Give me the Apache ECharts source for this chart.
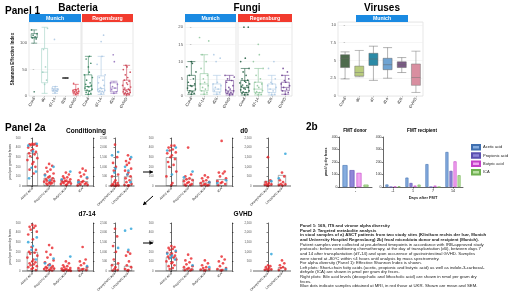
<!DOCTYPE html>
<html><head><meta charset="utf-8">
<script src="https://cdn.jsdelivr.net/npm/echarts@6/dist/echarts.min.js"></script>
<style>html,body{margin:0;padding:0;background:#fff}#c{width:520px;height:298px}</style>
</head><body><div id="c"></div>
<script>
// ---------------- DATA ----------------
// Panel 1 – Bacteria (Shannon effective index)
const bactMunichCats = ['Cond','d0','d7-14','d28','GVHD'];
const bactMunichBox = [[100,110,111,118,125],[5,25,45,90,130],[5,9,11,14,18],[34,34,34,34,34],[2,5,8,12,22]];
const bactMunichPts = [[8,108,110,112,115,118,125],[22,30,45,55,88,128],[6,9,10,11,12,13,15,18,107],[34,34],[3,5,6,7,8,9,10,11,12,14,24]];
const bactRegCats = ['Cond','d7-14','d28','GVHD'];
const bactRegBox = [[3,10,18,40,75],[3,8,14,38,75],[5,8,15,25,28],[2,5,12,30,58]];
const bactRegPts = [
  [3,5,7,9,11,13,15,17,18,20,22,25,30,35,40,45,55,62,70,75],
  [4,6,8,9,10,11,12,14,16,20,25,30,35,40,60,75,103,115],
  [5,8,12,15,18,22,25,65,78],
  [2,3,4,5,6,7,8,9,10,11,12,13,15,17,20,22,25,28,30,35,40,45,50,55,58]];
// Panel 1 – Fungi
const fungiMunichCats = ['Cond','d7-14','d28','GVHD'];
const fungiMunichBox = [[0.5,1.5,3,6,10],[0.5,1.5,3.5,6.5,12],[0.5,1.2,2,3.5,6],[0.3,0.8,1.5,4.5,6]];
const fungiMunichPts = [
  [0.5,0.8,1,1.2,1.5,2,2.3,2.8,3,3.5,4,5,6,7,8.5,9.5,10],
  [0.5,1,1.5,2,2.5,3,3.5,4,5,6,8,10,12,16,17],
  [0.5,1,1.5,2,2.5,3,3.5,4,10,11,12],
  [0.3,0.5,0.8,1,1.2,1.5,1.8,2,2.5,3,4,4.5,5,5.5,6]];
const fungiRegCats = ['Cond','d7-14','d28','GVHD'];
const fungiRegBox = [[0.3,1,2.5,4.5,8],[0.3,1,2,4,8],[0.3,1,2,3.5,6],[0.5,1.5,2.5,4,6]];
const fungiRegPts = [
  [0.3,0.5,0.8,1,1.2,1.5,1.8,2,2.2,2.5,2.8,3,3.2,3.5,3.8,4,4.3,4.6,5,6,7,8,10,11,20,20],
  [0.3,0.5,0.8,1,1.3,1.6,2,2.5,3,3.5,4,5,6,8,10,12,15],
  [0.3,0.5,1,1.5,2,2.5,3,3.5,4,5,8,10],
  [0.5,1,1.5,2,2.5,3,3.5,4,4.5,5,6,7,8]];
// Panel 1 – Viruses
const virCats = ['Cond','d0','d7','d14','d28','GVHD'];
const virBox = [[2.4,4.0,5.3,5.8,6.2],[2.7,2.8,3.3,4.2,6.4],[2.2,4.3,5.2,6.0,7.0],[2.5,3.7,4.4,5.3,6.8],[3.3,4.0,4.4,4.8,5.4],[0.5,1.5,2.6,4.5,6.3]];

// Panel 2a – metabolites
const scfaCats = ['Acetic acid','Propionic acid','Butyric acid','ICA'];
const bileCats = ['Deoxycholic acid','Lithocholic acid'];
const scfaTicks = [0,100,200,300,400,500];
const bileTicks = [0,500,1000,1500,2000,2500];
// Conditioning
const condScfaMean = [345,85,50,50];
const condScfaRed = [
  [440,440,435,430,425,420,400,380,370,355,340,330,310,290,270,250,230,200,170,130],
  [230,210,190,170,150,130,120,100,90,80,70,60,55,50,45,40,35,30,25,20,15],
  [140,120,100,90,80,70,60,55,50,45,40,35,30,25,20,15,10],
  [180,160,140,120,100,80,60,50,40,30,25,20,15,10,5]];
const condScfaBlue = [[440,420,360,190,150,80],[200,110,60],[150,70],[90,40]];
const condBileMean = [520,500];
const condBileRed = [[2150,1500,1200,1000,800,600,500,300,200,150,100,50,50,30,20,10],[1600,1400,1300,1200,1100,900,800,700,600,500,400,300,200,100,50,30,20]];
const condBileBlue = [[1770,1600,900,700],[1500,1000,800,600,200]];
// d0
const d0ScfaMean = [300,75,35,70];
const d0ScfaRed = [
  [420,420,400,380,370,350,340,320,300,280,250,220,200,150,100,30,10],
  [400,120,100,80,70,60,50,40,30,20,15,10,5],
  [110,90,80,60,50,40,30,20,15,10,5,5],
  [470,150,140,130,100,80,50,40,30,20,10]];
const d0ScfaBlue = [[400,370,120],[150,90],[40],[60,30]];
const d0BileMean = [260,570];
const d0BileRed = [[1500,300,200,150,100,80,60,40,20],[700,500,300,200,100,80,50,30]];
const d0BileBlue = [[250],[1680,400]];
// d7-14
const d7ScfaMean = [198,35,15,25];
const d7ScfaRed = [
  [480,470,460,450,430,410,380,330,250,220,200,190,180,160,140,120,100,90,80,70,60,50,40,30,20,10],
  [270,240,200,170,140,110,90,70,60,50,40,35,30,25,20,15,10,5,5],
  [100,80,60,50,40,30,25,20,15,10,8,5,3,2],
  [250,120,100,80,60,40,30,20,15,10,5]];
const d7ScfaBlue = [[350,300,260,220,120],[130,80,60],[150],[50]];
const d7BileMean = [365,260];
const d7BileRed = [[2200,1800,1300,1000,600,400,300,200,100,50,20],[1000,900,800,500,300,200,100,50,20]];
const d7BileBlue = [[1200],[2200,2100,1100]];
// GVHD
const gvScfaMean = [146,25,15,20];
const gvScfaRed = [
  [260,250,240,230,220,200,190,180,170,160,150,140,130,120,100,90,80,60,50,30,20],
  [170,130,110,90,70,50,40,30,20,15,10,5],
  [110,80,60,40,30,20,15,10,5],
  [150,120,100,80,50,30,20,10,5]];
const gvScfaBlue = [[210,180,160,140,120],[60],[40],[20]];
const gvBileMean = [100,200];
const gvBileRed = [[300,250,200,150,100,80,60,40],[550,400,300,200,150,100,50]];
const gvBileBlue = [[880],[]];

// Panel 2b – FMT
const fmtNames = ['Acetic acid','Propionic acid','Butyric acid','ICA'];
const donorCats = ['-'];
const donorVals = [[175],[135],[113],[19]];
const recipCats = ['-1','1','7','14'];
const recipVals = [[20,75,183,280],[0,32,0,129],[3,11,11,205],[5,19,0,94]];
const fmtTicks = [0,100,200,300,400];

// ---------------- BUILD ----------------
const FONT = '"Liberation Sans", Arial, Helvetica, sans-serif';
const grid=[], xAxis=[], yAxis=[], series=[], graphic=[];
const JIT = [0,0.55,-0.5,0.25,-0.3,0.8,-0.75,0.1,-0.15,0.65,-0.6,0.4,-0.4,0.9,-0.9,0.2];
function jit(j){return JIT[j%JIT.length];}
function txt(x,y,text,size,o){o=o||{};graphic.push({type:'text',x:x,y:y,z:100,silent:true,style:{text:text,fontSize:size,fontWeight:o.bold?'bold':'normal',fontFamily:FONT,fill:o.color||'#000',align:o.align||'left',verticalAlign:'middle',textAlign:o.align||'left',textVerticalAlign:'middle'}});}
function strip(x,y,w,h,label,color){graphic.push({type:'rect',z:90,silent:true,shape:{x:x,y:y,width:w,height:h},style:{fill:color}});txt(x+w/2,y+h/2+0.3,label,5.2,{bold:true,color:'#fff',align:'center'});}
function hline(x1,x2,y){graphic.push({type:'line',z:90,silent:true,shape:{x1:x1,y1:y,x2:x2,y2:y},style:{stroke:'#000',lineWidth:0.6}});}
function arrow(x1,y1,x2,y2){
  graphic.push({type:'line',z:90,silent:true,shape:{x1:x1,y1:y1,x2:x2,y2:y2},style:{stroke:'#000',lineWidth:1}});
  const a=Math.atan2(y2-y1,x2-x1),L=3.5,W=2;
  const bx=x2-L*Math.cos(a),by=y2-L*Math.sin(a);
  graphic.push({type:'polygon',z:91,silent:true,shape:{points:[[x2,y2],[bx+W*Math.sin(a),by-W*Math.cos(a)],[bx-W*Math.sin(a),by+W*Math.cos(a)]]},style:{fill:'#000'}});
}

function boxPanel(o){
  const gi=grid.length;
  grid.push({left:o.left,top:o.top,width:o.width,height:o.height,show:true,borderColor:'#cfcfcf',borderWidth:0.5,backgroundColor:'#fff'});
  const xc=xAxis.length;
  xAxis.push({type:'category',gridIndex:gi,data:o.cats,axisLine:{show:false},axisTick:{show:true,alignWithLabel:true,length:1.5,lineStyle:{color:'#999',width:0.5}},axisLabel:{rotate:60,fontSize:4,color:'#222',margin:2,interval:0,fontFamily:FONT},splitLine:{show:false}});
  const xv=xAxis.length;
  xAxis.push({type:'value',gridIndex:gi,min:-0.5,max:o.cats.length-0.5,show:false});
  const yi=yAxis.length;
  yAxis.push({type:'value',gridIndex:gi,min:0,max:o.yMax,interval:o.interval,axisLine:{show:false},
    axisTick:{show:o.showY,length:1.5,lineStyle:{color:'#999',width:0.5}},
    axisLabel:{show:o.showY,showMaxLabel:false,fontSize:4.2,color:'#555',margin:2,fontFamily:FONT},
    splitLine:{show:true,lineStyle:{color:'#ececec',width:0.5}},
    name:o.yName||'',nameLocation:'middle',nameGap:o.nameGap||15,nameRotate:90,
    nameTextStyle:{fontSize:4.5,fontWeight:'bold',color:'#222',fontFamily:FONT}});
  series.push({type:'boxplot',xAxisIndex:xc,yAxisIndex:yi,silent:true,boxWidth:[o.boxW,o.boxW],z:2,
    data:o.boxes.map((b,i)=>({value:b,itemStyle:{color:o.fills?o.fills[i]:'rgba(255,255,255,0)',borderColor:o.borders?o.borders[i]:o.colors[i],borderWidth:o.bw||0.6}}))});
  if(o.pts){
    const d=[];
    o.pts.forEach((arr,i)=>arr.forEach((v,j)=>d.push({value:[i+jit(j)*o.spread,v],itemStyle:{color:o.colors[i],opacity:0.85}})));
    series.push({type:'scatter',xAxisIndex:xv,yAxisIndex:yi,silent:true,symbolSize:o.ptSize||1.7,z:3,data:d});
  }
}

const RED='#e8262a', BLUE='#2aa2da';
function metPanel(o){
  const gi=grid.length;
  grid.push({left:o.left,top:o.top,width:o.width,height:o.height});
  const xc=xAxis.length;
  xAxis.push({type:'category',gridIndex:gi,data:o.cats,axisLine:{show:false},axisTick:{show:true,alignWithLabel:true,length:1.5,lineStyle:{color:'#000',width:0.5}},axisLabel:{rotate:45,fontSize:3.3,color:'#222',margin:2,interval:0,fontFamily:FONT}});
  const xv=xAxis.length;
  xAxis.push({type:'value',gridIndex:gi,min:-0.5,max:o.cats.length-0.5,show:false});
  const yi=yAxis.length;
  const tk=o.ticks;
  yAxis.push({type:'value',gridIndex:gi,position:'left',offset:o.offL||0,min:tk[0],max:tk[tk.length-1],interval:tk[1]-tk[0],
    axisLine:{show:true,lineStyle:{color:'#000',width:0.6}},axisTick:{show:true,length:1.5,lineStyle:{color:'#000',width:0.5}},
    axisLabel:{fontSize:2.8,color:'#555',margin:1.5,fontFamily:FONT},splitLine:{show:false},
    name:o.yName||'',nameLocation:'middle',nameGap:o.nameGap||9,nameRotate:90,nameTextStyle:{fontSize:3.3,color:'#222',fontFamily:FONT}});
  if(o.right){
    yAxis.push({type:'value',gridIndex:gi,position:'right',offset:o.offR||0,min:0,max:50,interval:10,
      axisLine:{show:true,lineStyle:{color:'#000',width:0.6}},axisTick:{show:true,length:1.5,lineStyle:{color:'#000',width:0.5}},
      axisLabel:{show:false},splitLine:{show:false}});
  }
  series.push({type:'bar',xAxisIndex:xc,yAxisIndex:yi,barWidth:o.barW,data:o.means,silent:true,z:2,
    itemStyle:{color:'rgba(255,255,255,0)',borderColor:'#777',borderWidth:0.6}});
  const dr=[],db=[];
  o.red.forEach((arr,i)=>arr.forEach((v,j)=>dr.push([i+jit(j)*o.spread,v])));
  o.blue.forEach((arr,i)=>arr.forEach((v,j)=>db.push([i+jit(j+5)*o.spread,v])));
  series.push({type:'scatter',xAxisIndex:xv,yAxisIndex:yi,silent:true,symbolSize:2.7,z:3,data:dr,itemStyle:{color:RED}});
  series.push({type:'scatter',xAxisIndex:xv,yAxisIndex:yi,silent:true,symbolSize:2.7,z:4,data:db,itemStyle:{color:BLUE}});
  hline(o.left-(o.offL||0),o.left+o.width+(o.extR||0),o.top+o.height);
}

// ---- Panel 1 ----
txt(5,11,'Panel 1',10,{bold:true});
txt(78,8,'Bacteria',10,{bold:true,align:'center'});
txt(247,8,'Fungi',10,{bold:true,align:'center'});
txt(382,8,'Viruses',10,{bold:true,align:'center'});

const cBM=['#2b6e55','#9fd0c2','#a9c6e2','#444444','#d8414f'];
const cBR=['#2f7d57','#a9c6e2','#8e6bb8','#c93a4c'];
boxPanel({left:29,top:22,width:52,height:74,cats:bactMunichCats,boxes:bactMunichBox,pts:bactMunichPts,colors:cBM,yMax:140,interval:50,showY:true,boxW:6,spread:0.35,yName:'Shannon Effective Index',nameGap:14});
boxPanel({left:82,top:22,width:51,height:74,cats:bactRegCats,boxes:bactRegBox,pts:bactRegPts,colors:cBR,yMax:140,interval:50,showY:false,boxW:7,spread:0.35});
strip(29,14,52,8,'Munich','#1a8ae2');
strip(82,14,51,8,'Regensburg','#f23b2e');

const cF=['#1f5a3e','#8cc49a','#a9c7e3','#6a3d8f'];
boxPanel({left:185,top:22,width:51,height:74,cats:fungiMunichCats,boxes:fungiMunichBox,pts:fungiMunichPts,colors:cF,yMax:21.5,interval:5,showY:true,boxW:8,spread:0.4});
boxPanel({left:238,top:22,width:54,height:74,cats:fungiRegCats,boxes:fungiRegBox,pts:fungiRegPts,colors:cF,yMax:21.5,interval:5,showY:false,boxW:8,spread:0.4});
strip(185,14,51,8,'Munich','#1a8ae2');
strip(238,14,54,8,'Regensburg','#f23b2e');

boxPanel({left:338,top:22,width:85,height:74,cats:virCats,boxes:virBox,colors:['#555','#555','#555','#555','#555','#555'],
  fills:['#4d6a4c','#b9cc7e','#2b8aa6','#6fa3d2','#7b5a86','#d98ea0'],borders:['#666','#777','#666','#666','#666','#777'],
  yMax:10.4,interval:2.5,showY:true,boxW:9,bw:0.5});
strip(356,15,52,7,'Munich','#1a8ae2');

// ---- Panel 2a ----
txt(5,128,'Panel 2a',10,{bold:true});
txt(86,131,'Conditioning',6.5,{bold:true,align:'center'});
txt(244,131,'d0',6.5,{bold:true,align:'center'});
txt(87,214,'d7-14',6.5,{bold:true,align:'center'});
txt(243,214,'GVHD',6.5,{bold:true,align:'center'});

const Y2A='µmol per gram dry feces';
metPanel({left:24,top:138,width:67,height:48,cats:scfaCats,ticks:scfaTicks,means:condScfaMean,red:condScfaRed,blue:condScfaBlue,barW:11,spread:0.33,offL:2,offR:2,extR:2,right:true,yName:Y2A,nameGap:8});
metPanel({left:108.5,top:138,width:26,height:48,cats:bileCats,ticks:bileTicks,means:condBileMean,red:condBileRed,blue:condBileBlue,barW:8,spread:0.3});
metPanel({left:163,top:138,width:67,height:48,cats:scfaCats,ticks:scfaTicks,means:d0ScfaMean,red:d0ScfaRed,blue:d0ScfaBlue,barW:11,spread:0.33,offL:8,offR:2,extR:2,right:true});
metPanel({left:261,top:138,width:28,height:48,cats:bileCats,ticks:bileTicks,means:d0BileMean,red:d0BileRed,blue:d0BileBlue,barW:8,spread:0.3,offL:8,extR:2});
metPanel({left:24,top:223,width:67,height:48,cats:scfaCats,ticks:scfaTicks,means:d7ScfaMean,red:d7ScfaRed,blue:d7ScfaBlue,barW:11,spread:0.33,offL:2,offR:2,extR:2,right:true,yName:Y2A,nameGap:8});
metPanel({left:108.5,top:223,width:26,height:48,cats:bileCats,ticks:bileTicks,means:d7BileMean,red:d7BileRed,blue:d7BileBlue,barW:8,spread:0.3});
metPanel({left:163,top:223,width:67,height:48,cats:scfaCats,ticks:scfaTicks,means:gvScfaMean,red:gvScfaRed,blue:gvScfaBlue,barW:11,spread:0.33,offL:8,offR:2,extR:2,right:true});
metPanel({left:261,top:223,width:28,height:48,cats:bileCats,ticks:bileTicks,means:gvBileMean,red:gvBileRed,blue:gvBileBlue,barW:8,spread:0.3,offL:8,extR:2});

arrow(143,172,153,172);
arrow(153,196,143,205);
arrow(143,243,153,243);

// ---- Panel 2b ----
txt(306,127,'2b',10,{bold:true});
txt(355,131,'FMT donor',4.6,{bold:true,align:'center'});
txt(422,131,'FMT recipient',4.6,{bold:true,align:'center'});
const fmtFill=['#86addf','#8f86d8','#f0a6f0','#b9e0a2'];
const fmtBorder=['#3f6fb0','#5a4fb0','#c440c8','#6fb050'];
function fmtPanel(left,width,cats,vals,barW,gap,name){
  const gi=grid.length;
  grid.push({left:left,top:137,width:width,height:50});
  const xc=xAxis.length;
  xAxis.push({type:'category',gridIndex:gi,data:cats,axisLine:{show:true,lineStyle:{color:'#000',width:0.6}},axisTick:{show:true,alignWithLabel:true,length:1.5,lineStyle:{color:'#000',width:0.5}},
    axisLabel:{fontSize:3.6,color:'#222',margin:2,fontFamily:FONT},name:name||'',nameLocation:'middle',nameGap:9,nameTextStyle:{fontSize:4,fontWeight:'bold',color:'#222',fontFamily:FONT}});
  const yi=yAxis.length;
  yAxis.push({type:'value',gridIndex:gi,min:fmtTicks[0],max:fmtTicks[fmtTicks.length-1],interval:fmtTicks[1]-fmtTicks[0],axisLine:{show:true,lineStyle:{color:'#000',width:0.6}},axisTick:{show:true,length:1.5,lineStyle:{color:'#000',width:0.5}},
    axisLabel:{fontSize:3.4,color:'#333',margin:1.5,fontFamily:FONT},splitLine:{show:false},
    name:left<370?'µmol / g dry feces':'',nameLocation:'middle',nameGap:11,nameRotate:90,nameTextStyle:{fontSize:3.4,fontWeight:'bold',color:'#222',fontFamily:FONT}});
  vals.forEach((v,k)=>series.push({type:'bar',name:fmtNames[k],xAxisIndex:xc,yAxisIndex:yi,barWidth:barW,barGap:gap,data:v,silent:true,
    itemStyle:{color:fmtFill[k],borderColor:fmtBorder[k],borderWidth:0.6}}));
}
fmtPanel(339,33,donorCats,donorVals,5,'40%');
fmtPanel(383,80,recipCats,recipVals,3,'35%','Days after FMT');

// ---- Caption ----
const capLines=[
 ['Panel 1: 16S, ITS and virome alpha diversity',true],
 ['Panel 2: Targeted metabolite analysis',true],
 ['in stool samples of a) ASCT patients from two study sites (Klinikum rechts der Isar, Munich',true],
 ['and University Hospital Regensburg) 2b) fecal microbiota donor and recipient (Munich).',true],
 ['Patient samples were collected at pre-defined timepoints in accordance with IRB-approved study',false],
 ['protocols: before conditioning chemotherapy, at the day of transplantation (d0), between days 7',false],
 ['and 14 after transplantation (d7-14) and upon occurence of gastrointestinal GVHD. Samples',false],
 ['were stored at -80°C within <4 hours until analysis by mass spectrometry.',false],
 ['For alpha diversity (Panel 1): Effective Shannon Index is shown.',false],
 ['Left plots: Short-chain fatty acids (acetic, propionic and butyric acid) as well as indole-3-carboxal-',false],
 ['dehyde (ICA) are shown in µmol per gram dry feces.',false],
 ['Right plots: Bile acid levels (deoxycholic and lithocholic acid) are shown in nmol per gram dry',false],
 ['feces.',false],
 ['Blue dots indicate samples obtained at MRI, in red those at UKR. Shown are mean and SEM.',false]];
capLines.forEach((l,i)=>txt(300,226+i*4.62,l[0],4.3,{bold:l[1],color:'#222'}));

const chart=echarts.init(document.getElementById('c'),null,{renderer:'canvas'});
chart.setOption({
  animation:false,
  backgroundColor:'#fff',
  grid:grid,xAxis:xAxis,yAxis:yAxis,series:series,graphic:graphic,
  legend:{show:true,orient:'vertical',left:466,top:139,itemWidth:8,itemHeight:4.5,itemGap:1.8,icon:'rect',
    data:fmtNames,textStyle:{fontSize:4,color:'#222',fontFamily:FONT,padding:[0,0,0,-2]},selectedMode:false}
});
</script></body></html>
